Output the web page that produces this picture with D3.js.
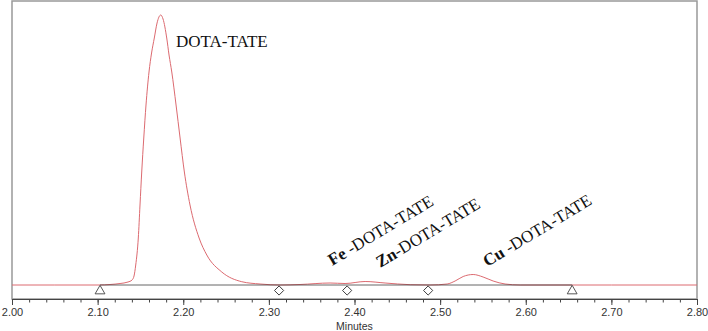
<!DOCTYPE html>
<html>
<head>
<meta charset="utf-8">
<script src="https://cdn.jsdelivr.net/npm/d3@7/dist/d3.min.js"></script>
<style>
  html, body { margin: 0; padding: 0; background: #fff; }
  svg { display: block; }
</style>
</head>
<body>
<svg id="chart" width="708" height="331"></svg>
<script>
// ---- data ----
const times = [2.000, 2.050, 2.1016, 2.1145, 2.1262, 2.1355, 2.1402, 2.1425, 2.1445, 2.1475,
  2.1495, 2.1515, 2.1539, 2.1565, 2.1600, 2.1630, 2.1662, 2.1694, 2.1737, 2.1764,
  2.1807, 2.1834, 2.1866, 2.1916, 2.1963, 2.2013, 2.2079, 2.2185, 2.2275, 2.2450,
  2.2683, 2.2897, 2.3131, 2.3364, 2.3715, 2.3890, 2.4124, 2.4357, 2.4650, 2.4883,
  2.5082, 2.5175, 2.5269, 2.5386, 2.5502, 2.5619, 2.5759, 2.5935, 2.7000, 2.8000];
const signal = [0, 0, 0, 0.5, 1.5, 3, 5, 9, 20, 47,
  80, 113, 147, 180, 213, 232, 247, 262, 270, 266,
  247, 230, 213, 180, 147, 113, 80, 47, 30, 13,
  3.3, 1, 0, 0.5, 2, 1.5, 3.5, 2, 0.3, 0,
  1, 4, 8.5, 10.5, 8, 4, 1, 0, 0, 0];

const xTicks = [2.00, 2.10, 2.20, 2.30, 2.40, 2.50, 2.60, 2.70, 2.80];
const xMinorTicks = d3.range(0, 41).map(i => +(2 + i * 0.02).toFixed(2));
const baselineStartEnd = [2.1028, 2.6542];
const triangleTimes = [2.1028, 2.6542];
const diamondTimes = [2.3119, 2.3914, 2.4860];

const peakLabels = [
  { t: 2.1915, v: 238, bold: "", rest: "DOTA-TATE", rotate: 0 },
  { t: 2.3740, v: 19, bold: "Fe", rest: " -DOTA-TATE", rotate: -31 },
  { t: 2.4300, v: 17, bold: "Zn", rest: "-DOTA-TATE", rotate: -31 },
  { t: 2.5550, v: 18, bold: "Cu", rest: " -DOTA-TATE", rotate: -31 }
];

// ---- layout ----
const svg = d3.select("#chart");
const pLeft = 12, pRight = 697, pTop = 1, pBottom = 299;
const x = d3.scaleLinear().domain([2.0, 2.8]).range([pLeft, pRight]);
const y = d3.scaleLinear().domain([-14, 284]).range([pBottom, pTop]);

// frame
svg.append("rect")
  .attr("x", pLeft).attr("y", pTop)
  .attr("width", pRight - pLeft).attr("height", pBottom - pTop)
  .attr("fill", "none").attr("stroke", "#999").attr("stroke-width", 1.5);

// trace
const line = d3.line()
  .x((d, i) => x(times[i]))
  .y((d, i) => y(signal[i]))
  .curve(d3.curveMonotoneX);
svg.append("path")
  .datum(signal)
  .attr("d", line)
  .attr("fill", "none")
  .attr("stroke", "#dc6a70")
  .attr("stroke-width", 1);

// integration baseline
svg.append("line")
  .attr("x1", x(baselineStartEnd[0])).attr("x2", x(baselineStartEnd[1]))
  .attr("y1", y(0)).attr("y2", y(0))
  .attr("stroke", "#333").attr("stroke-opacity", 0.75).attr("stroke-width", 1);

// markers
svg.selectAll(".tri").data(triangleTimes).enter().append("path")
  .attr("class", "tri")
  .attr("d", d3.symbol(d3.symbolTriangle, 42)())
  .attr("transform", d => `translate(${x(d)},${y(0) + 6})`)
  .attr("fill", "#fff").attr("stroke", "#444").attr("stroke-width", 0.9);
svg.selectAll(".dia").data(diamondTimes).enter().append("path")
  .attr("class", "dia")
  .attr("d", d3.symbol(d3.symbolSquare, 42)())
  .attr("transform", d => `translate(${x(d)},${y(0) + 5.5}) rotate(45)`)
  .attr("fill", "#fff").attr("stroke", "#333").attr("stroke-width", 0.9);

// x axis
const minorAxis = d3.axisBottom(x).tickValues(xMinorTicks).tickSize(3.5).tickFormat("").tickSizeOuter(0);
const gMinor = svg.append("g").attr("transform", `translate(0,${pBottom})`).call(minorAxis);
gMinor.select(".domain").remove();
gMinor.selectAll("line").attr("stroke", "#444");

const majorAxis = d3.axisBottom(x).tickValues(xTicks).tickSize(6).tickSizeOuter(0)
  .tickFormat(d3.format(".2f"));
const gMajor = svg.append("g").attr("transform", `translate(0,${pBottom})`).call(majorAxis);
gMajor.select(".domain").attr("stroke", "#444");
gMajor.selectAll("line").attr("stroke", "#444");
gMajor.selectAll("text")
  .attr("font-family", "Liberation Sans, Arial, sans-serif")
  .attr("font-size", 11)
  .attr("fill", "#333")
  .attr("dy", null)
  .attr("y", 17);

svg.append("text")
  .attr("x", (pLeft + pRight) / 2).attr("y", 329.5)
  .attr("text-anchor", "middle")
  .attr("font-family", "Liberation Sans, Arial, sans-serif")
  .attr("font-size", 10.5)
  .attr("fill", "#333")
  .text("Minutes");

// peak labels
peakLabels.forEach(p => {
  const t = svg.append("text")
    .attr("transform", `translate(${x(p.t)},${y(p.v)}) rotate(${p.rotate})`)
    .attr("font-family", "Liberation Serif, Times New Roman, serif")
    .attr("font-size", 17)
    .attr("fill", "#111");
  if (p.bold) t.append("tspan").attr("font-weight", "bold").text(p.bold);
  t.append("tspan").text(p.rest);
});
</script>
</body>
</html>
